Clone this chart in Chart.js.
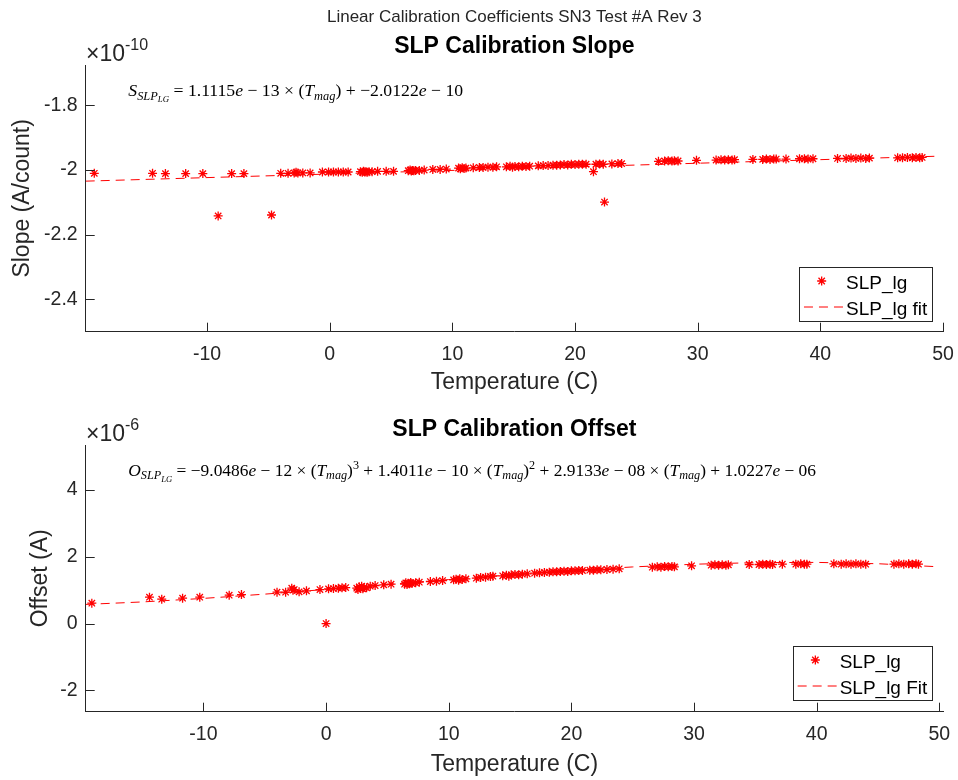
<!DOCTYPE html>
<html>
<head>
<meta charset="utf-8">
<title>Linear Calibration Coefficients SN3 Test #A Rev 3</title>
<script src="https://cdn.jsdelivr.net/npm/chart.js@4.4.0/dist/chart.umd.min.js"></script>
<style>
  body { margin: 0; background: #fff; }
  #wrap { position: relative; width: 958px; height: 780px; }
  canvas { position: absolute; left: 0; }
</style>
</head>
<body>
<div id="wrap">
  <canvas id="slopeChart" width="958" height="400" style="top:0"></canvas>
  <canvas id="offsetChart" width="958" height="380" style="top:400px"></canvas>
</div>
<script>
// tick positions
var xTicks = [-10, 0, 10, 20, 30, 40, 50];
var slopeTicks = [-2.4, -2.2, -2, -1.8];   // units of 1e-10 A/count
var offsetTicks = [-2, 0, 2, 4];           // units of 1e-6 A

// slope vs temperature (x 1e-10)
var slopeTemp = [
  -19.2, -14.45, -13.4, -11.75, -10.35, -9.1, -8.0, -7.0, -4.75, -4.0,
  -3.4, -2.9, -2.75, -2.6, -2.2, -1.6, -0.6, -0.1, 0.3, 0.7,
  1.1, 1.5, 2.5, 2.65, 2.75, 2.85, 2.95, 3.05, 3.2, 3.45,
  3.9, 4.6, 5.2, 6.4, 6.55, 6.65, 6.75, 6.85, 7.0, 7.3,
  7.7, 8.4, 9.0, 9.5, 10.5, 10.65, 10.8, 10.95, 11.1, 11.7,
  12.2, 12.5, 12.9, 13.3, 13.6, 14.4, 14.7, 14.9, 15.1, 15.4,
  15.7, 16.0, 16.3, 17.0, 17.4, 17.8, 18.2, 18.5, 18.8, 19.1,
  19.4, 19.7, 20.0, 20.3, 20.6, 20.9, 21.5, 21.7, 22.0, 22.3,
  22.4, 23.0, 23.5, 23.8, 26.8, 27.3, 27.6, 27.9, 28.1, 28.4,
  29.9, 31.5, 31.9, 32.2, 32.5, 32.8, 33.0, 34.5, 35.3, 35.6,
  35.9, 36.2, 36.4, 37.2, 38.3, 38.7, 39.0, 39.4, 41.4, 42.1,
  42.5, 42.9, 43.3, 43.7, 44.0, 46.3, 46.7, 47.1, 47.5, 47.8,
  48.1, 48.3
];
var slopeLg = [
  -2.010, -2.010, -2.011, -2.011, -2.011, -2.142, -2.011, -2.011, -2.139, -2.010,
  -2.010, -2.009, -2.007, -2.009, -2.009, -2.009, -2.006, -2.006, -2.006, -2.006,
  -2.006, -2.006, -2.005, -2.007, -2.004, -2.006, -2.005, -2.007, -2.005, -2.005,
  -2.004, -2.004, -2.004, -2.002, -2.000, -2.003, -2.001, -2.002, -2.001, -2.001,
  -2.000, -1.998, -1.998, -1.997, -1.994, -1.996, -1.993, -1.995, -1.994, -1.993,
  -1.992, -1.992, -1.991, -1.991, -1.990, -1.990, -1.988, -1.991, -1.989, -1.990,
  -1.988, -1.989, -1.988, -1.987, -1.986, -1.986, -1.985, -1.985, -1.984, -1.983,
  -1.984, -1.982, -1.983, -1.982, -1.982, -1.982, -2.005, -1.982, -1.981, -1.982,
  -2.099, -1.981, -1.980, -1.980, -1.973, -1.972, -1.971, -1.972, -1.971, -1.972,
  -1.970, -1.969, -1.968, -1.969, -1.968, -1.969, -1.968, -1.967, -1.967, -1.966,
  -1.967, -1.966, -1.966, -1.966, -1.965, -1.965, -1.966, -1.965, -1.964, -1.964,
  -1.963, -1.964, -1.963, -1.964, -1.963, -1.962, -1.962, -1.961, -1.962, -1.961,
  -1.962, -1.961
];
var slopeFitTemp = [-19.9, 49.6];
var slopeFit = [-2.0343, -1.9571];

// offset vs temperature (x 1e-6)
var offsetTemp = [
  -19.1, -14.4, -13.4, -11.7, -10.3, -7.9, -6.9, -4.0, -3.3, -2.8,
  -2.7, -2.6, -2.2, -1.6, -0.5, 0.0, 0.2, 0.6, 1.0, 1.3,
  1.6, 2.5, 2.6, 2.7, 2.8, 2.9, 3.0, 3.1, 3.3, 3.6,
  4.0, 4.7, 5.3, 6.4, 6.5, 6.6, 6.7, 6.8, 6.9, 7.0,
  7.3, 7.6, 8.5, 9.0, 9.5, 10.4, 10.6, 10.8, 10.9, 11.1,
  11.4, 12.25, 12.6, 13.0, 13.4, 13.6, 14.4, 14.7, 14.9, 15.1,
  15.4, 15.7, 16.0, 16.4, 17.0, 17.4, 17.8, 18.2, 18.5, 18.8,
  19.1, 19.4, 19.7, 20.0, 20.3, 20.6, 20.9, 21.5, 21.8, 22.1,
  22.4, 22.9, 23.4, 23.9, 26.6, 27.0, 27.3, 27.6, 27.9, 28.2,
  28.4, 29.8, 31.4, 31.7, 32.0, 32.3, 32.6, 32.8, 34.5, 35.3,
  35.6, 35.9, 36.2, 36.4, 37.2, 38.3, 38.7, 39.0, 39.2, 41.4,
  42.0, 42.4, 42.8, 43.2, 43.6, 44.0, 46.3, 46.7, 47.1, 47.5,
  47.8, 48.1, 48.3
];
var offsetLg = [
  0.61, 0.79, 0.73, 0.76, 0.79, 0.85, 0.87, 0.94, 0.94, 1.06,
  1.00, 1.02, 0.95, 0.98, 1.02, 0.00, 1.04, 1.05, 1.06, 1.07,
  1.08, 1.06, 1.02, 1.10, 1.05, 1.12, 1.04, 1.08, 1.07, 1.12,
  1.14, 1.16, 1.18, 1.18, 1.22, 1.17, 1.21, 1.19, 1.23, 1.20,
  1.22, 1.24, 1.26, 1.27, 1.29, 1.31, 1.33, 1.30, 1.34, 1.32,
  1.34, 1.36, 1.38, 1.39, 1.41, 1.42, 1.43, 1.45, 1.42, 1.46,
  1.47, 1.46, 1.48, 1.49, 1.51, 1.52, 1.53, 1.54, 1.55, 1.55,
  1.56, 1.57, 1.56, 1.58, 1.58, 1.59, 1.59, 1.60, 1.60, 1.61,
  1.61, 1.62, 1.63, 1.64, 1.69, 1.70, 1.69, 1.71, 1.70, 1.71,
  1.70, 1.73, 1.75, 1.76, 1.75, 1.76, 1.75, 1.76, 1.77, 1.77,
  1.78, 1.77, 1.78, 1.77, 1.78, 1.78, 1.79, 1.78, 1.78, 1.79,
  1.78, 1.79, 1.78, 1.79, 1.78, 1.78, 1.78, 1.79, 1.78, 1.79,
  1.78, 1.79, 1.78
];
var offsetFitTemp = [-19.6, -15, -10, -5, 0, 5, 10, 15, 20, 25, 30, 35, 40, 45, 49.6];
var offsetFit = [0.574, 0.648, 0.754, 0.882, 1.023, 1.171, 1.319, 1.461, 1.589, 1.697, 1.778, 1.826, 1.833, 1.793, 1.708];

var FONT = '"Liberation Sans", Arial, Helvetica, sans-serif';
var SERIF = '"Liberation Serif", "Times New Roman", serif';
var INK = '#262626';
var RED = '#ff0000';

function pairs(xs, ys) {
  return xs.map(function (x, i) { return { x: x, y: ys[i] }; });
}

function star(ctx, x, y, r) {
  var d = r * 0.7071;
  ctx.beginPath();
  ctx.moveTo(x - r, y); ctx.lineTo(x + r, y);
  ctx.moveTo(x, y - r); ctx.lineTo(x, y + r);
  ctx.moveTo(x - d, y - d); ctx.lineTo(x + d, y + d);
  ctx.moveTo(x - d, y + d); ctx.lineTo(x + d, y - d);
  ctx.stroke();
}

// parts: [text, italic, dy, scale]; fitted to width w
function richText(ctx, x, y, parts, w) {
  var size = 15;
  function font(p, s) { return (p[1] ? 'italic ' : '') + (s * (p[3] || 1)) + 'px ' + SERIF; }
  var total = 0;
  parts.forEach(function (p) { ctx.font = font(p, size); total += ctx.measureText(p[0]).width; });
  size = size * w / total;
  var cx = x;
  parts.forEach(function (p) {
    ctx.font = font(p, size);
    ctx.fillText(p[0], cx, y + (p[2] || 0) * size / 15);
    cx += ctx.measureText(p[0]).width;
  });
}

var decor = {
  id: 'decor',
  afterDraw: function (chart, args, o) {
    var ctx = chart.ctx, a = chart.chartArea;
    var xs = chart.scales.x, ys = chart.scales.y;
    ctx.save();

    // inward tick marks
    ctx.strokeStyle = INK;
    ctx.lineWidth = 1;
    ctx.beginPath();
    xs.ticks.forEach(function (t) {
      var px = Math.round(xs.getPixelForValue(t.value)) + 0.5;
      ctx.moveTo(px, a.bottom); ctx.lineTo(px, a.bottom - 9);
    });
    ys.ticks.forEach(function (t) {
      var py = Math.round(ys.getPixelForValue(t.value)) + 0.5;
      ctx.moveTo(a.left, py); ctx.lineTo(a.left + 9, py);
    });
    ctx.stroke();

    // figure title
    if (o.suptitle) {
      ctx.fillStyle = INK;
      ctx.font = '17px ' + FONT;
      ctx.textAlign = 'center';
      ctx.textBaseline = 'alphabetic';
      ctx.fillText(o.suptitle, (a.left + a.right) / 2, 21.5);
    }

    // axes title
    ctx.fillStyle = '#000';
    ctx.font = 'bold 23px ' + FONT;
    ctx.textAlign = 'center';
    ctx.textBaseline = 'alphabetic';
    ctx.fillText(o.title, (a.left + a.right) / 2, o.titleY);

    // exponent label
    ctx.fillStyle = INK;
    ctx.textAlign = 'left';
    ctx.font = '23px ' + FONT;
    ctx.fillText('\u00d710', 86, o.expY);
    var ew = ctx.measureText('\u00d710').width;
    ctx.font = '16px ' + FONT;
    ctx.fillText(o.exp, 86 + ew, o.expY - 11);

    // equation
    ctx.fillStyle = '#000';
    richText(ctx, 128.3, o.eqY, o.eq, o.eqW);

    // legend
    ctx.font = '19px ' + FONT;
    var tw = Math.max(ctx.measureText(o.labels[0]).width, ctx.measureText(o.labels[1]).width);
    var right = a.right - 10.7, bottom = a.bottom - o.legBottom;
    var textX = right - 5 - tw, left = textX - 46.7, top = bottom - 54;
    ctx.fillStyle = '#fff';
    ctx.fillRect(left, top, right - left, bottom - top);
    ctx.strokeStyle = INK;
    ctx.lineWidth = 1;
    ctx.strokeRect(Math.round(left) + 0.5, Math.round(top) + 0.5, Math.round(right - left), Math.round(bottom - top));
    ctx.fillStyle = '#000';
    ctx.textBaseline = 'alphabetic';
    ctx.fillText(o.labels[0], textX, top + 21.6);
    ctx.fillText(o.labels[1], textX, top + 48.3);
    ctx.strokeStyle = RED;
    ctx.lineWidth = 1.3;
    star(ctx, left + 22.4, top + 14, 4.5);
    ctx.lineWidth = 1;
    ctx.setLineDash([9, 6]);
    ctx.beginPath();
    ctx.moveTo(left + 4.7, top + 40); ctx.lineTo(left + 44, top + 40);
    ctx.stroke();
    ctx.restore();
  }
};

function build(id, c) {
  return new Chart(document.getElementById(id), {
    type: 'scatter',
    data: {
      datasets: [
        {
          label: c.labels[0],
          data: pairs(c.temp, c.vals),
          pointStyle: 'star',
          pointRadius: 4.5,
          borderColor: RED,
          backgroundColor: RED,
          borderWidth: 1.3,
          order: 2
        },
        {
          type: 'line',
          label: c.labels[1],
          data: pairs(c.fitTemp, c.fit),
          borderColor: RED,
          borderWidth: 1,
          borderDash: [9, 6],
          pointRadius: 0,
          fill: false,
          tension: 0,
          order: 1
        }
      ]
    },
    options: {
      responsive: false,
      animation: false,
      devicePixelRatio: 1,
      layout: { padding: { top: c.padTop, right: 15, left: 0, bottom: 0 } },
      plugins: {
        legend: { display: false },
        tooltip: { enabled: false },
        decor: c.decor
      },
      scales: {
        x: {
          type: 'linear',
          min: c.xMin,
          max: c.xMax,
          afterFit: function (s) { s.height = 68.3; s.paddingLeft = 0; s.paddingRight = 0; },
          afterBuildTicks: function (s) { s.ticks = xTicks.map(function (v) { return { value: v }; }); },
          ticks: { color: INK, font: { family: FONT, size: 19.5 }, padding: 11, maxRotation: 0, autoSkip: false,
                   callback: function (v) { return String(v); } },
          grid: { display: true, drawOnChartArea: false, drawTicks: false },
          border: { display: true, color: INK, width: 1 },
          title: { display: true, text: 'Temperature (C)', color: INK, font: { family: FONT, size: 23 },
                   padding: { top: 0, bottom: c.xTitlePad } }
        },
        y: {
          type: 'linear',
          min: c.yMin,
          max: c.yMax,
          afterFit: function (s) { s.width = 85.7; s.paddingTop = 0; s.paddingBottom = 0; },
          afterBuildTicks: function (s) { s.ticks = c.yTicks.map(function (v) { return { value: v }; }); },
          ticks: { color: INK, font: { family: FONT, size: 19.5 }, padding: 8, autoSkip: false,
                   callback: function (v) { return String(Math.round(v * 10) / 10); } },
          grid: { display: true, drawOnChartArea: false, drawTicks: false },
          border: { display: true, color: INK, width: 1 },
          title: { display: true, text: c.yTitle, color: INK, font: { family: FONT, size: 23 },
                   padding: { top: c.yTitlePad, bottom: 0 } }
        }
      }
    },
    plugins: [decor]
  });
}

build('slopeChart', {
  temp: slopeTemp, vals: slopeLg, fitTemp: slopeFitTemp, fit: slopeFit,
  labels: ['SLP_lg', 'SLP_lg fit'],
  xMin: -19.9, xMax: 50, yMin: -2.5, yMax: -1.675, yTicks: slopeTicks,
  padTop: 65, xTitlePad: 3.2, yTitlePad: 9.2, yTitle: 'Slope (A/count)',
  decor: {
    suptitle: 'Linear Calibration Coefficients SN3 Test #A Rev 3',
    title: 'SLP Calibration Slope', titleY: 52.5,
    exp: '-10', expY: 61,
    eqY: 96, eqW: 335,
    eq: [['S', 1], ['SLP', 1, 3, 0.7], ['LG', 1, 5.5, 0.5], [' = 1.1115', 0], ['e', 1], [' \u2212 13 \u00d7 (', 0],
         ['T', 1], ['mag', 1, 3, 0.7], [') + \u22122.0122', 0], ['e', 1], [' \u2212 10', 0]],
    labels: ['SLP_lg', 'SLP_lg fit'], legBottom: 10.7
  }
});

build('offsetChart', {
  temp: offsetTemp, vals: offsetLg, fitTemp: offsetFitTemp, fit: offsetFit,
  labels: ['SLP_lg', 'SLP_lg Fit'],
  xMin: -19.6, xMax: 50.3, yMin: -2.64, yMax: 5.35, yTicks: offsetTicks,
  padTop: 45, xTitlePad: 1.2, yTitlePad: 27.2, yTitle: 'Offset (A)',
  decor: {
    title: 'SLP Calibration Offset', titleY: 36,
    exp: '-6', expY: 41,
    eqY: 76, eqW: 688,
    eq: [['O', 1], ['SLP', 1, 3, 0.7], ['LG', 1, 5.5, 0.5], [' = \u22129.0486', 0], ['e', 1], [' \u2212 12 \u00d7 (', 0],
         ['T', 1], ['mag', 1, 3, 0.7], [')', 0], ['3', 0, -6, 0.7], [' + 1.4011', 0], ['e', 1], [' \u2212 10 \u00d7 (', 0],
         ['T', 1], ['mag', 1, 3, 0.7], [')', 0], ['2', 0, -6, 0.7], [' + 2.9133', 0], ['e', 1], [' \u2212 08 \u00d7 (', 0],
         ['T', 1], ['mag', 1, 3, 0.7], [') + 1.0227', 0], ['e', 1], [' \u2212 06', 0]],
    labels: ['SLP_lg', 'SLP_lg Fit'], legBottom: 11.7
  }
});
</script>
</body>
</html>
